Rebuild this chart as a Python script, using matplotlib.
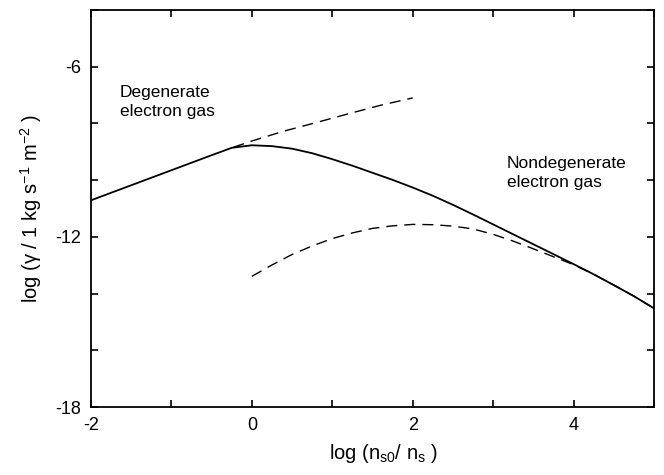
import matplotlib
matplotlib.use('Agg')
import matplotlib.pyplot as plt
from matplotlib.ticker import MultipleLocator

plt.rcParams['font.family'] = ['Liberation Sans', 'DejaVu Sans']
plt.rcParams['mathtext.default'] = 'regular'

# full (solid) curve
x_full = [-2.0, -1.0, -0.5, -0.25, 0.0, 0.25, 0.5, 0.75, 1.0, 1.25, 1.5, 1.75, 2.0,
          2.25, 2.5, 2.75, 3.0, 3.25, 3.5, 3.75, 4.0, 4.25, 4.5, 4.75, 5.0]
y_full = [-10.71, -9.65, -9.12, -8.86, -8.77, -8.80, -8.89, -9.05, -9.26, -9.49, -9.74, -9.99, -10.26,
          -10.55, -10.87, -11.21, -11.56, -11.91, -12.26, -12.61, -12.96, -13.32, -13.70, -14.09, -14.52]

# degenerate limit (upper dashed)
x_deg = [-0.23, 0.0, 0.4, 0.8, 1.2, 1.6, 2.0]
y_deg = [-8.84, -8.62, -8.27, -7.97, -7.66, -7.36, -7.10]

# nondegenerate limit (lower dashed)
x_nondeg = [0.0, 0.25, 0.5, 0.75, 1.0, 1.25, 1.5, 1.75, 2.0, 2.25, 2.5, 2.75, 3.0,
            3.25, 3.5, 3.75, 4.0, 4.25, 4.5, 4.75, 5.0]
y_nondeg = [-13.39, -12.99, -12.62, -12.32, -12.06, -11.86, -11.70, -11.61, -11.56, -11.57, -11.62, -11.72, -11.91,
            -12.15, -12.42, -12.70, -12.98, -13.32, -13.70, -14.09, -14.52]

fig = plt.figure(figsize=(6.64, 4.75), dpi=100)
ax = fig.add_axes([0.137, 0.143, 0.848, 0.836])

ax.plot(x_full, y_full, color='black', lw=1.3)
ax.plot(x_deg, y_deg, color='black', lw=1.0, dashes=(8, 5))
ax.plot(x_nondeg, y_nondeg, color='black', lw=1.0, dashes=(8, 5))

ax.set_xlim(-2, 5)
ax.set_ylim(-18, -4)
ax.xaxis.set_major_locator(MultipleLocator(1))
ax.yaxis.set_major_locator(MultipleLocator(2))
ax.set_xticklabels(['-2' if v == -2 else ('0' if v == 0 else ('2' if v == 2 else ('4' if v == 4 else '')))
                    for v in ax.get_xticks()])
ax.set_yticklabels(['-6' if v == -6 else ('-12' if v == -12 else ('-18' if v == -18 else ''))
                    for v in ax.get_yticks()])
ax.tick_params(direction='in', top=True, right=True, length=5, width=1.2, labelsize=13, pad=7)
for s in ax.spines.values():
    s.set_linewidth(1.3)

ax.text(-1.64, -6.65, 'Degenerate\nelectron gas', fontsize=12.5, va='top', ha='left', linespacing=1.3)
ax.text(3.17, -9.15, 'Nondegenerate\nelectron gas', fontsize=12.5, va='top', ha='left', linespacing=1.3)

ax.set_ylabel('log (γ / 1 kg s$^{-1}$ m$^{-2}$ )', fontsize=14.5, labelpad=8)
ax.set_xlabel('log (n$_{s0}$/ n$_{s}$ )', fontsize=14.5, labelpad=6, x=0.52)

fig.savefig('out.png', dpi=100)
